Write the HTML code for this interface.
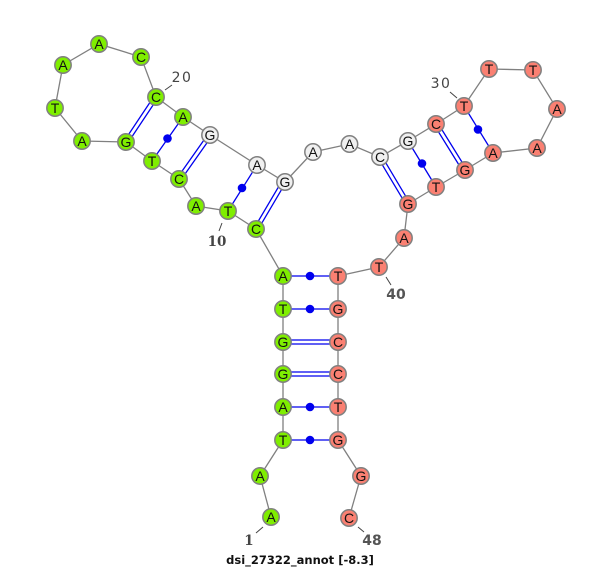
<!DOCTYPE html>
<html><head><meta charset="utf-8"><style>
html,body{margin:0;padding:0;background:#fff;width:600px;height:568px;overflow:hidden}
svg{display:block}
.n{font:14px "Liberation Sans",sans-serif;text-anchor:middle;fill:#111}
.l{font:14px "DejaVu Sans",sans-serif;text-anchor:middle;fill:#444;letter-spacing:1.5px}
.b{font:bold 14px "DejaVu Sans",sans-serif;text-anchor:middle;fill:#555}
.s{font:bold 13.5px "DejaVu Serif",serif;text-anchor:middle;fill:#444}
.t{font:bold 11.5px "DejaVu Sans",sans-serif;text-anchor:middle;fill:#111}
</style></head><body>
<svg width="600" height="568" viewBox="0 0 600 568" xmlns="http://www.w3.org/2000/svg">
<polyline fill="none" stroke="#808080" stroke-width="1.3" points="271,517 260,476 283,440 283,407 283,374 283,342 283,309 283,276 256,229 228,211 196,206 179,179 152,161 126,142 82,141 55,108 63,65 99,44 141,57 156,97 183,117 210,135 257,165 285,182 313,152 349.5,144 380,157 408,141 436,124 464,106 489,69 533,70 557,109 537,148 493,153 465,170 436,187 408,204 404,238 379,267 338,276 338,309 338,342 338,374 338,407 338,440 361,476 349,518"/>
<g stroke="#0000ee" stroke-width="1.3" fill="none">
<path d="M283,276H338M283,309H338M283,407H338M283,440H338"/>
<path d="M283,340H338M283,344H338M283,372H338M283,376H338"/>
<path d="M228,211L257,165M152,161L183,117M464,106L493,153M408,141L436,187"/>
<path d="M254.3,227.9L282.3,180.4M257.7,230.1L285.7,182.6"/>
<path d="M177.3,177.9L208.3,133.900M180.7,180.100L211.700,136.100"/>
<path d="M124.3,140.9L154.3,95.9M127.7,143.1L157.7,98.1"/>
<path d="M378.3,158.1L406.3,205.1M381.7,155.9L409.7,202.9"/>
<path d="M434.3,125.1L462.8,171.1M437.7,122.9L466.2,168.9"/>
</g>
<g fill="#0000ee">
<circle cx="310" cy="276" r="4.3"/><circle cx="310" cy="309" r="4.3"/><circle cx="310" cy="407" r="4.3"/><circle cx="310" cy="440" r="4.3"/>
<circle cx="242" cy="188" r="4.3"/><circle cx="167.500" cy="138.500" r="4.300"/><circle cx="478" cy="129.500" r="4.300"/><circle cx="422" cy="163.500" r="4.300"/>
</g>
<g stroke="#808080" stroke-width="1.5">
<g fill="#7fee00">
<circle cx="271" cy="517" r="8.2"/><circle cx="260" cy="476" r="8.2"/><circle cx="283" cy="440" r="8.2"/><circle cx="283" cy="407" r="8.2"/><circle cx="283" cy="374" r="8.2"/><circle cx="283" cy="342" r="8.2"/><circle cx="283" cy="309" r="8.2"/><circle cx="283" cy="276" r="8.2"/><circle cx="256" cy="229" r="8.2"/><circle cx="228" cy="211" r="8.2"/><circle cx="196" cy="206" r="8.2"/><circle cx="179" cy="179" r="8.2"/><circle cx="152" cy="161" r="8.2"/><circle cx="126" cy="142" r="8.2"/><circle cx="82" cy="141" r="8.2"/><circle cx="55" cy="108" r="8.2"/><circle cx="63" cy="65" r="8.2"/><circle cx="99" cy="44" r="8.2"/><circle cx="141" cy="57" r="8.2"/><circle cx="156" cy="97" r="8.2"/><circle cx="183" cy="117" r="8.2"/>
</g>
<g fill="#f0f0f0">
<circle cx="210" cy="135" r="8.2"/><circle cx="257" cy="165" r="8.2"/><circle cx="285" cy="182" r="8.2"/><circle cx="313" cy="152" r="8.2"/><circle cx="349.500" cy="144" r="8.2"/><circle cx="380" cy="157" r="8.2"/><circle cx="408" cy="141" r="8.2"/>
</g>
<g fill="#fa8072">
<circle cx="436" cy="124" r="8.2"/><circle cx="464" cy="106" r="8.2"/><circle cx="489" cy="69" r="8.2"/><circle cx="533" cy="70" r="8.2"/><circle cx="557" cy="109" r="8.2"/><circle cx="537" cy="148" r="8.2"/><circle cx="493" cy="153" r="8.2"/><circle cx="465" cy="170" r="8.2"/><circle cx="436" cy="187" r="8.2"/><circle cx="408" cy="204" r="8.2"/><circle cx="404" cy="238" r="8.2"/><circle cx="379" cy="267" r="8.2"/><circle cx="338" cy="276" r="8.2"/><circle cx="338" cy="309" r="8.2"/><circle cx="338" cy="342" r="8.2"/><circle cx="338" cy="374" r="8.2"/><circle cx="338" cy="407" r="8.2"/><circle cx="338" cy="440" r="8.2"/><circle cx="361" cy="476" r="8.2"/><circle cx="349" cy="518" r="8.2"/>
</g>
</g>
<g>
<text class="n" x="271" y="522">A</text><text class="n" x="260" y="481">A</text><text class="n" x="283" y="445">T</text><text class="n" x="283" y="412">A</text><text class="n" x="283" y="379">G</text><text class="n" x="283" y="347">G</text><text class="n" x="283" y="314">T</text><text class="n" x="283" y="281">A</text><text class="n" x="256" y="234">C</text><text class="n" x="228" y="216">T</text><text class="n" x="196" y="211">A</text><text class="n" x="179" y="184">C</text><text class="n" x="152" y="166">T</text><text class="n" x="126" y="147">G</text><text class="n" x="82" y="146">A</text><text class="n" x="55" y="113">T</text><text class="n" x="63" y="70">A</text><text class="n" x="99" y="49">A</text><text class="n" x="141" y="62">C</text><text class="n" x="156" y="102">C</text><text class="n" x="183" y="122">A</text><text class="n" x="210" y="140">G</text><text class="n" x="257" y="170">A</text><text class="n" x="285" y="187">G</text><text class="n" x="313" y="157">A</text><text class="n" x="349.500" y="149">A</text><text class="n" x="380" y="162">C</text><text class="n" x="408" y="146">G</text><text class="n" x="436" y="129">C</text><text class="n" x="464" y="111">T</text><text class="n" x="489" y="74">T</text><text class="n" x="533" y="75">T</text><text class="n" x="557" y="114">A</text><text class="n" x="537" y="153">A</text><text class="n" x="493" y="158">A</text><text class="n" x="465" y="175">G</text><text class="n" x="436" y="192">T</text><text class="n" x="408" y="209">G</text><text class="n" x="404" y="243">A</text><text class="n" x="379" y="272">T</text><text class="n" x="338" y="281">T</text><text class="n" x="338" y="314">G</text><text class="n" x="338" y="347">C</text><text class="n" x="338" y="379">C</text><text class="n" x="338" y="412">T</text><text class="n" x="338" y="445">G</text><text class="n" x="361" y="481">G</text><text class="n" x="349" y="523">C</text>
</g>
<g stroke="#444" stroke-width="1" fill="none">
<path d="M165,90L172,85M457,98L450,92M222,223L219,231M386,277L391,285M256,533L263,527M358,527L364,532"/>
</g>
<text class="l" x="182" y="82">20</text>
<text class="l" x="441" y="88">30</text>
<text class="s" x="217" y="246">10</text>
<text class="b" x="396" y="299">40</text>
<text class="s" x="249" y="545">1</text>
<text class="b" x="372" y="545">48</text>
<text class="t" x="300" y="564">dsi_27322_annot [-8.3]</text>
</svg>
</body></html>
